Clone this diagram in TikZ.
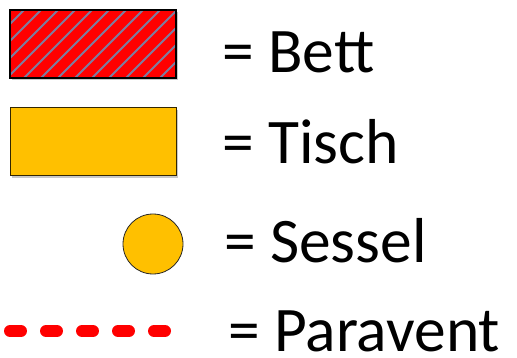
\documentclass[tikz,border=0pt]{standalone}
\usepackage{fontspec}
\setmainfont{Carlito}
\usepackage{tikz}
\usetikzlibrary{calc}

\definecolor{bedred}{RGB}{255,0,0}
\definecolor{stripegray}{RGB}{125,125,160}
\definecolor{tablegold}{RGB}{255,192,0}
\definecolor{shadowgray}{RGB}{200,200,200}

\tikzset{
    legendtext/.style={anchor=base west,inner sep=0pt,font=\fontsize{63.5}{70}\selectfont},
    shadowbox/.style={fill=shadowgray,draw=none},
}

\begin{document}
\begin{tikzpicture}[x=1pt,y=-1pt]
    \useasboundingbox (0,0) rectangle (517,358);
    \coordinate (bedNW) at (10,10);
    \coordinate (bedSE) at (176,78);
    \coordinate (tableNW) at (10,108);
    \coordinate (tableSE) at (176,176);
    \coordinate (chair) at (153,244);
    \coordinate (screenL) at (10,331);
    \coordinate (screenR) at (172,331);

    % bed
    \fill [shadowbox] ($(bedNW)+(2,2)$) rectangle ($(bedSE)+(2,2)$);
    \fill [bedred] (bedNW) rectangle (bedSE);
    \begin{scope}
        \clip (bedNW) rectangle (bedSE);
        \foreach \k in {-80,-63,...,200}
            \draw [stripegray,line width=2pt] (\k,80) -- ++(70,-70);
    \end{scope}
    \draw [black,line width=1.5pt] (bedNW) rectangle (bedSE);

    % table
    \fill [shadowbox] ($(tableNW)+(2,2)$) rectangle ($(tableSE)+(2,2)$);
    \draw [fill=tablegold,draw=black!80!tablegold,line width=1pt]
        (tableNW) rectangle (tableSE);

    % chair
    \draw [fill=tablegold,draw=black!85,line width=0.8pt] (chair) circle (30);

    % screen
    \draw [bedred,line width=12pt,line cap=round,dash pattern=on 11pt off 25pt]
        (screenL) -- (screenR);

    \node [legendtext] (bett) at (222,73) {= Bett};
    \node [legendtext] (tisch) at (222,164) {= Tisch};
    \node [legendtext] (sessel) at (224,262) {= Sessel};
    \node [legendtext] (paravent) at (228,351) {= Paravent};
\end{tikzpicture}
\end{document}
